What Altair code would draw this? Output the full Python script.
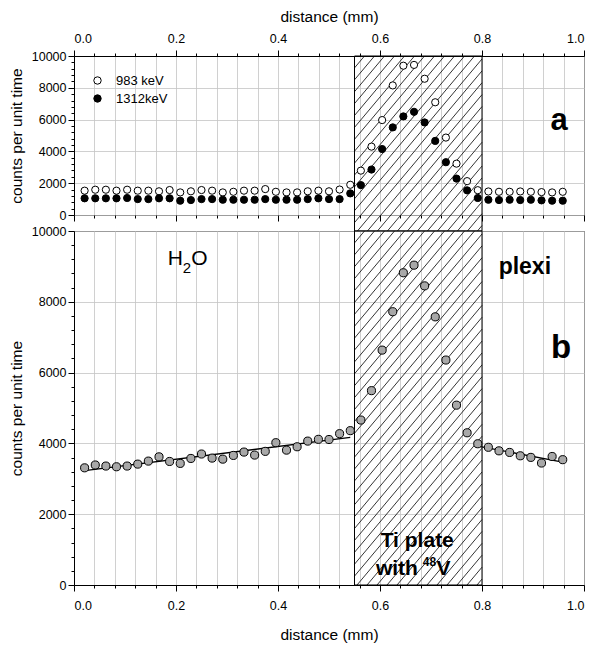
import altair as alt
import pandas as pd

# ---------------- data ----------------
x_mm = [0.0208, 0.0417, 0.0625, 0.0833, 0.1042, 0.125, 0.1458, 0.1667, 0.1875, 0.2083,
        0.2292, 0.25, 0.2708, 0.2917, 0.3125, 0.3333, 0.3542, 0.375, 0.3958, 0.4167,
        0.4375, 0.4583, 0.4792, 0.5, 0.5208, 0.5417, 0.5625, 0.5833, 0.6042, 0.625,
        0.6458, 0.6667, 0.6875, 0.7083, 0.7292, 0.75, 0.7708, 0.7917, 0.8125, 0.8333,
        0.8542, 0.875, 0.8958, 0.9167, 0.9375, 0.9583]

counts_983 = [1530, 1590, 1590, 1530, 1590, 1530, 1530, 1490, 1570, 1420,
              1490, 1570, 1530, 1420, 1460, 1530, 1530, 1630, 1460, 1420,
              1420, 1490, 1530, 1490, 1600, 1900, 2790, 4300, 5970, 8150,
              9390, 9440, 8570, 7090, 4870, 3230, 2130, 1560, 1480, 1460,
              1460, 1480, 1460, 1440, 1420, 1460]

counts_1312 = [1050, 1050, 1050, 1050, 1070, 1000, 1000, 1050, 1050, 900,
               940, 1000, 1000, 960, 960, 960, 960, 1000, 960, 960,
               960, 1000, 1050, 1000, 1000, 1360, 1880, 2860, 4150, 5510,
               6200, 6490, 5820, 4660, 3320, 2290, 1550, 1070, 960, 940,
               960, 940, 960, 920, 900, 900]

counts_b = [3310, 3390, 3360, 3340, 3360, 3415, 3500, 3620, 3490, 3435,
            3575, 3700, 3585, 3555, 3660, 3755, 3670, 3775, 4020, 3810,
            3905, 4065, 4115, 4110, 4275, 4360, 4660, 5490, 6635, 7720,
            8820, 9035, 8450, 7575, 6355, 5080, 4300, 3990, 3890, 3790,
            3745, 3650, 3605, 3445, 3630, 3540]

series_names = ["983 keV", "1312keV"]
plate = [0.55, 0.80]          # Ti plate extent (mm)
x_ticks = [round(i * 0.04, 2) for i in range(26)]
y_ticks = list(range(0, 10001, 400))

# ---------------- layout / style ----------------
FONT = "Liberation Sans"
W = 510
H_TOP = 159
H_BOT = 354
GAP = 16
HATCH_TAN = 1.19
HATCH_PX = 10

XS = alt.Scale(domain=[0, 1], nice=False, zero=False)
YS = alt.Scale(domain=[0, 10000], nice=False)

major_x = "abs(datum.value*5 - round(datum.value*5)) < 0.001"
major_y = "datum.value % 2000 === 0"
TICK_X = {"condition": {"test": major_x, "value": 6}, "value": 3}


def x_axis(orient, title):
    return alt.Axis(orient=orient, title=title, values=x_ticks, grid=True,
                    labelExpr=f"{major_x} ? format(datum.value, '.1f') : ''",
                    labelOverlap=False, tickSize=TICK_X,
                    labelPadding=5 if orient == "top" else 8,
                    titlePadding=8 if orient == "top" else 16)


Y_AX = alt.Axis(title="counts per unit time", values=y_ticks, grid=True,
                labelExpr=f"{major_y} ? format(datum.value, 'd') : ''",
                labelOverlap=False,
                tickSize={"condition": {"test": major_y, "value": 6}, "value": 3},
                gridOpacity={"condition": {"test": major_y, "value": 1}, "value": 0},
                labelPadding=2, titlePadding=7)


def hatch(height, ymin, ymax, xax):
    c = height / (HATCH_TAN * W)
    step = HATCH_PX / W
    u0 = plate[0] - c * ymax / 10000
    return (alt.Chart(alt.sequence(0, 90, as_="i"))
            .transform_calculate(u=f"{u0} + datum.i*{step}")
            .transform_calculate(
                ys=f"max({ymin}, ({plate[0]} - datum.u)/{c}*10000)",
                ye=f"min({ymax}, ({plate[1]} - datum.u)/{c}*10000)")
            .transform_filter("datum.ye > datum.ys")
            .transform_calculate(xs=f"datum.u + {c}*datum.ys/10000",
                                 xe=f"datum.u + {c}*datum.ye/10000")
            .mark_rule(color="black", strokeWidth=0.8)
            .encode(x=alt.X("xs:Q", scale=XS, axis=xax), x2="xe:Q",
                    y=alt.Y("ys:Q", scale=YS, axis=Y_AX), y2="ye:Q"))


def plate_box(ymin, ymax, xax):
    df = pd.DataFrame({"x0": [plate[0]], "x1": [plate[1]], "y0": [ymin], "y1": [ymax]})
    return (alt.Chart(df).mark_rect(fill="white", fillOpacity=0, stroke="black", strokeWidth=1)
            .encode(x=alt.X("x0:Q", scale=XS, axis=xax), x2="x1:Q",
                    y=alt.Y("y0:Q", scale=YS, axis=Y_AX), y2="y1:Q"))


def label(text, x, y, size, xax, weight="normal", align="center"):
    df = pd.DataFrame({"t": [text], "x": [x], "y": [y]})
    return (alt.Chart(df).mark_text(font=FONT, fontSize=size, fontWeight=weight, align=align,
                                    baseline="middle", color="black")
            .encode(x=alt.X("x:Q", scale=XS, axis=xax),
                    y=alt.Y("y:Q", scale=YS, axis=Y_AX), text="t:N"))


# ---------------- top panel (a) ----------------
XA_TOP = x_axis("top", "distance (mm)")
top_df = pd.DataFrame({
    "x": x_mm * 2,
    "v": counts_983 + counts_1312,
    "series": [series_names[0]] * len(x_mm) + [series_names[1]] * len(x_mm),
})
gap_data = -GAP / H_TOP * 10000

top_points = (alt.Chart(top_df).mark_point(shape="circle", filled=True, size=52,
                                          stroke="black", strokeWidth=1, opacity=1)
              .encode(x=alt.X("x:Q", scale=XS, axis=XA_TOP),
                      y=alt.Y("v:Q", scale=YS, axis=Y_AX),
                      fill=alt.Fill("series:N",
                                    scale=alt.Scale(domain=series_names, range=["white", "black"]),
                                    sort=series_names,
                                    legend=alt.Legend(orient="none", legendX=17, legendY=18,
                                                      title=None, labelFont=FONT, labelFontSize=13,
                                                      labelColor="black",
                                                      symbolSize=55, symbolStrokeColor="black",
                                                      symbolStrokeWidth=1, symbolType="circle",
                                                      rowPadding=4, labelOffset=12, padding=0))))

top_content = alt.layer(
    hatch(H_TOP, gap_data, 10000, XA_TOP),
    plate_box(gap_data, 10000, XA_TOP),
    top_points,
    label("a", 0.951, 5900, 31, XA_TOP, weight="bold"),
)

# tick marks along the lower edge of panel a (no labels)
tick_axis = alt.Axis(orient="bottom", values=x_ticks, labels=False, title="", grid=False,
                     domain=False, tickSize=TICK_X)
top_ticks = (alt.Chart(pd.DataFrame({"x": plate, "y": [0, 0]}))
             .mark_point(opacity=0)
             .encode(x=alt.X("x:Q", scale=XS, axis=tick_axis),
                     y=alt.Y("y:Q", scale=YS, axis=Y_AX)))

top = (alt.layer(top_content, top_ticks)
       .resolve_axis(x="independent")
       .properties(width=W, height=H_TOP))

# ---------------- bottom panel (b) ----------------
XA_BOT = x_axis("bottom", "distance (mm)")
bot_df = pd.DataFrame({"x": x_mm, "v": counts_b})

bot_base = alt.Chart(bot_df).encode(x=alt.X("x:Q", scale=XS, axis=XA_BOT),
                                    y=alt.Y("v:Q", scale=YS, axis=Y_AX))
fit_water = (bot_base.transform_filter(f"datum.x < {plate[0]}")
             .transform_regression("x", "v").mark_line(color="black", strokeWidth=1.3))
fit_plexi = (bot_base.transform_filter(f"datum.x > {plate[1] - 0.02}")
             .transform_regression("x", "v").mark_line(color="black", strokeWidth=1.3))
bot_points = bot_base.mark_point(shape="circle", filled=True, size=66, fill="#a8a8a8",
                                 stroke="black", strokeWidth=1, opacity=1)

bottom = alt.layer(
    hatch(H_BOT, 0, 10000, XA_BOT),
    plate_box(0, 10000, XA_BOT),
    fit_water,
    fit_plexi,
    bot_points,
    label("H", 0.184, 9200, 21, XA_BOT, align="left"),
    label("2", 0.213, 8960, 15, XA_BOT, align="left"),
    label("O", 0.230, 9200, 21, XA_BOT, align="left"),
    label("plexi", 0.884, 8990, 23, XA_BOT, weight="bold"),
    label("b", 0.955, 6700, 33, XA_BOT, weight="bold"),
    label("Ti plate", 0.673, 1240, 21, XA_BOT, weight="bold"),
    label("with", 0.592, 450, 21, XA_BOT, weight="bold", align="left"),
    label("48", 0.684, 640, 12, XA_BOT, weight="bold", align="left"),
    label("V", 0.711, 450, 21, XA_BOT, weight="bold", align="left"),
).properties(width=W, height=H_BOT)

chart = (alt.vconcat(top, bottom, spacing=GAP, bounds="flush")
         .resolve_legend(fill="independent")
         .properties(padding={"left": 0, "top": 0, "right": 2, "bottom": 2},
                     background="white")
         .configure_view(stroke="black", strokeWidth=1)
         .configure_axis(labelFont=FONT, titleFont=FONT, labelFontSize=12.5, titleFontSize=15.5,
                         titleFontWeight="normal", labelColor="black", titleColor="black",
                         domainColor="black", tickColor="black", gridColor="#c4c4c4",
                         gridWidth=0.8))

chart.save("out.html", embed_options={"renderer": "svg", "actions": False})
